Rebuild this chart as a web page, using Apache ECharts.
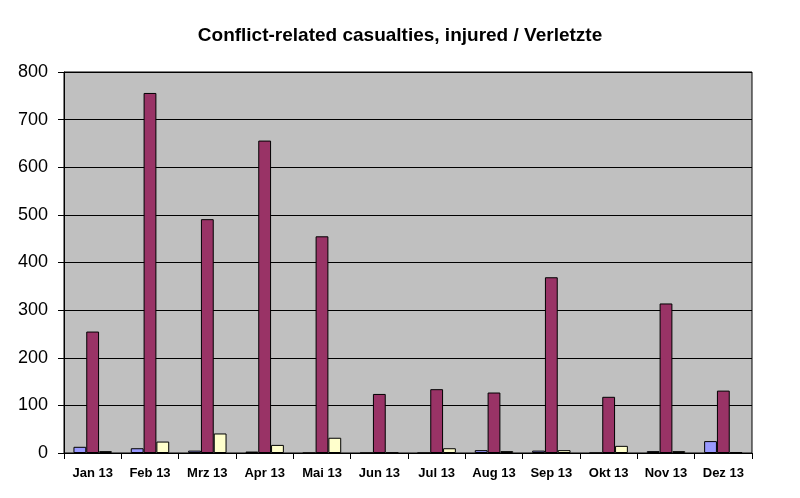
<!DOCTYPE html>
<html><head><meta charset="utf-8">
<script src="https://cdn.jsdelivr.net/npm/echarts@6/dist/echarts.min.js"></script>
<style>html,body{margin:0;padding:0;background:#fff}#c{width:800px;height:498px}</style>
</head><body><div id="c"></div>
<script>
const categories = ['Jan 13','Feb 13','Mrz 13','Apr 13','Mai 13','Jun 13','Jul 13','Aug 13','Sep 13','Okt 13','Nov 13','Dez 13'];
const seriesBlue = [13, 10, 5, 3, 0, 0, 0, 6, 5, 0, 4, 25];
const seriesMaroon = [255, 756, 491, 656, 455, 124, 134, 127, 369, 118, 314, 131];
const seriesYellow = [4, 24, 41, 17, 32, 1, 10, 4, 6, 15, 4, 2];
const yTicks = [0, 100, 200, 300, 400, 500, 600, 700, 800];

const chart = echarts.init(document.getElementById('c'));
const barStyle = c => ({color: c, borderColor: '#000', borderWidth: 1});
chart.setOption({
  animation: false,
  title: {text: 'Conflict-related casualties, injured / Verletzte', left: 'center', top: 21,
    textStyle: {fontFamily: 'Liberation Sans', fontWeight: 'bold', fontSize: 19, color: '#000'}},
  grid: {left: 64, right: 48, top: 72, bottom: 45, show: true, backgroundColor: '#C0C0C0', borderColor: '#000', borderWidth: 1},
  xAxis: {type: 'category', data: categories,
    axisLine: {lineStyle: {color: '#000'}},
    axisTick: {show: true, length: 6, lineStyle: {color: '#000'}},
    axisLabel: {fontFamily: 'Liberation Sans', fontWeight: 'bold', fontSize: 13, color: '#000', margin: 14}},
  yAxis: {type: 'value', min: yTicks[0], max: yTicks[yTicks.length-1], interval: 100,
    axisLine: {show: true, lineStyle: {color: '#000'}},
    axisTick: {show: true, length: 6, lineStyle: {color: '#000'}},
    splitLine: {lineStyle: {color: '#000', width: 1}},
    axisLabel: {fontFamily: 'Liberation Sans', fontSize: 18, color: '#000', margin: 16}},
  series: [
    {type: 'bar', data: seriesBlue, itemStyle: barStyle('#9999FF'), barGap: '0%', barCategoryGap: '33%'},
    {type: 'bar', data: seriesMaroon, itemStyle: barStyle('#993366')},
    {type: 'bar', data: seriesYellow, itemStyle: barStyle('#FFFFCC')}
  ]
});
</script></body></html>
